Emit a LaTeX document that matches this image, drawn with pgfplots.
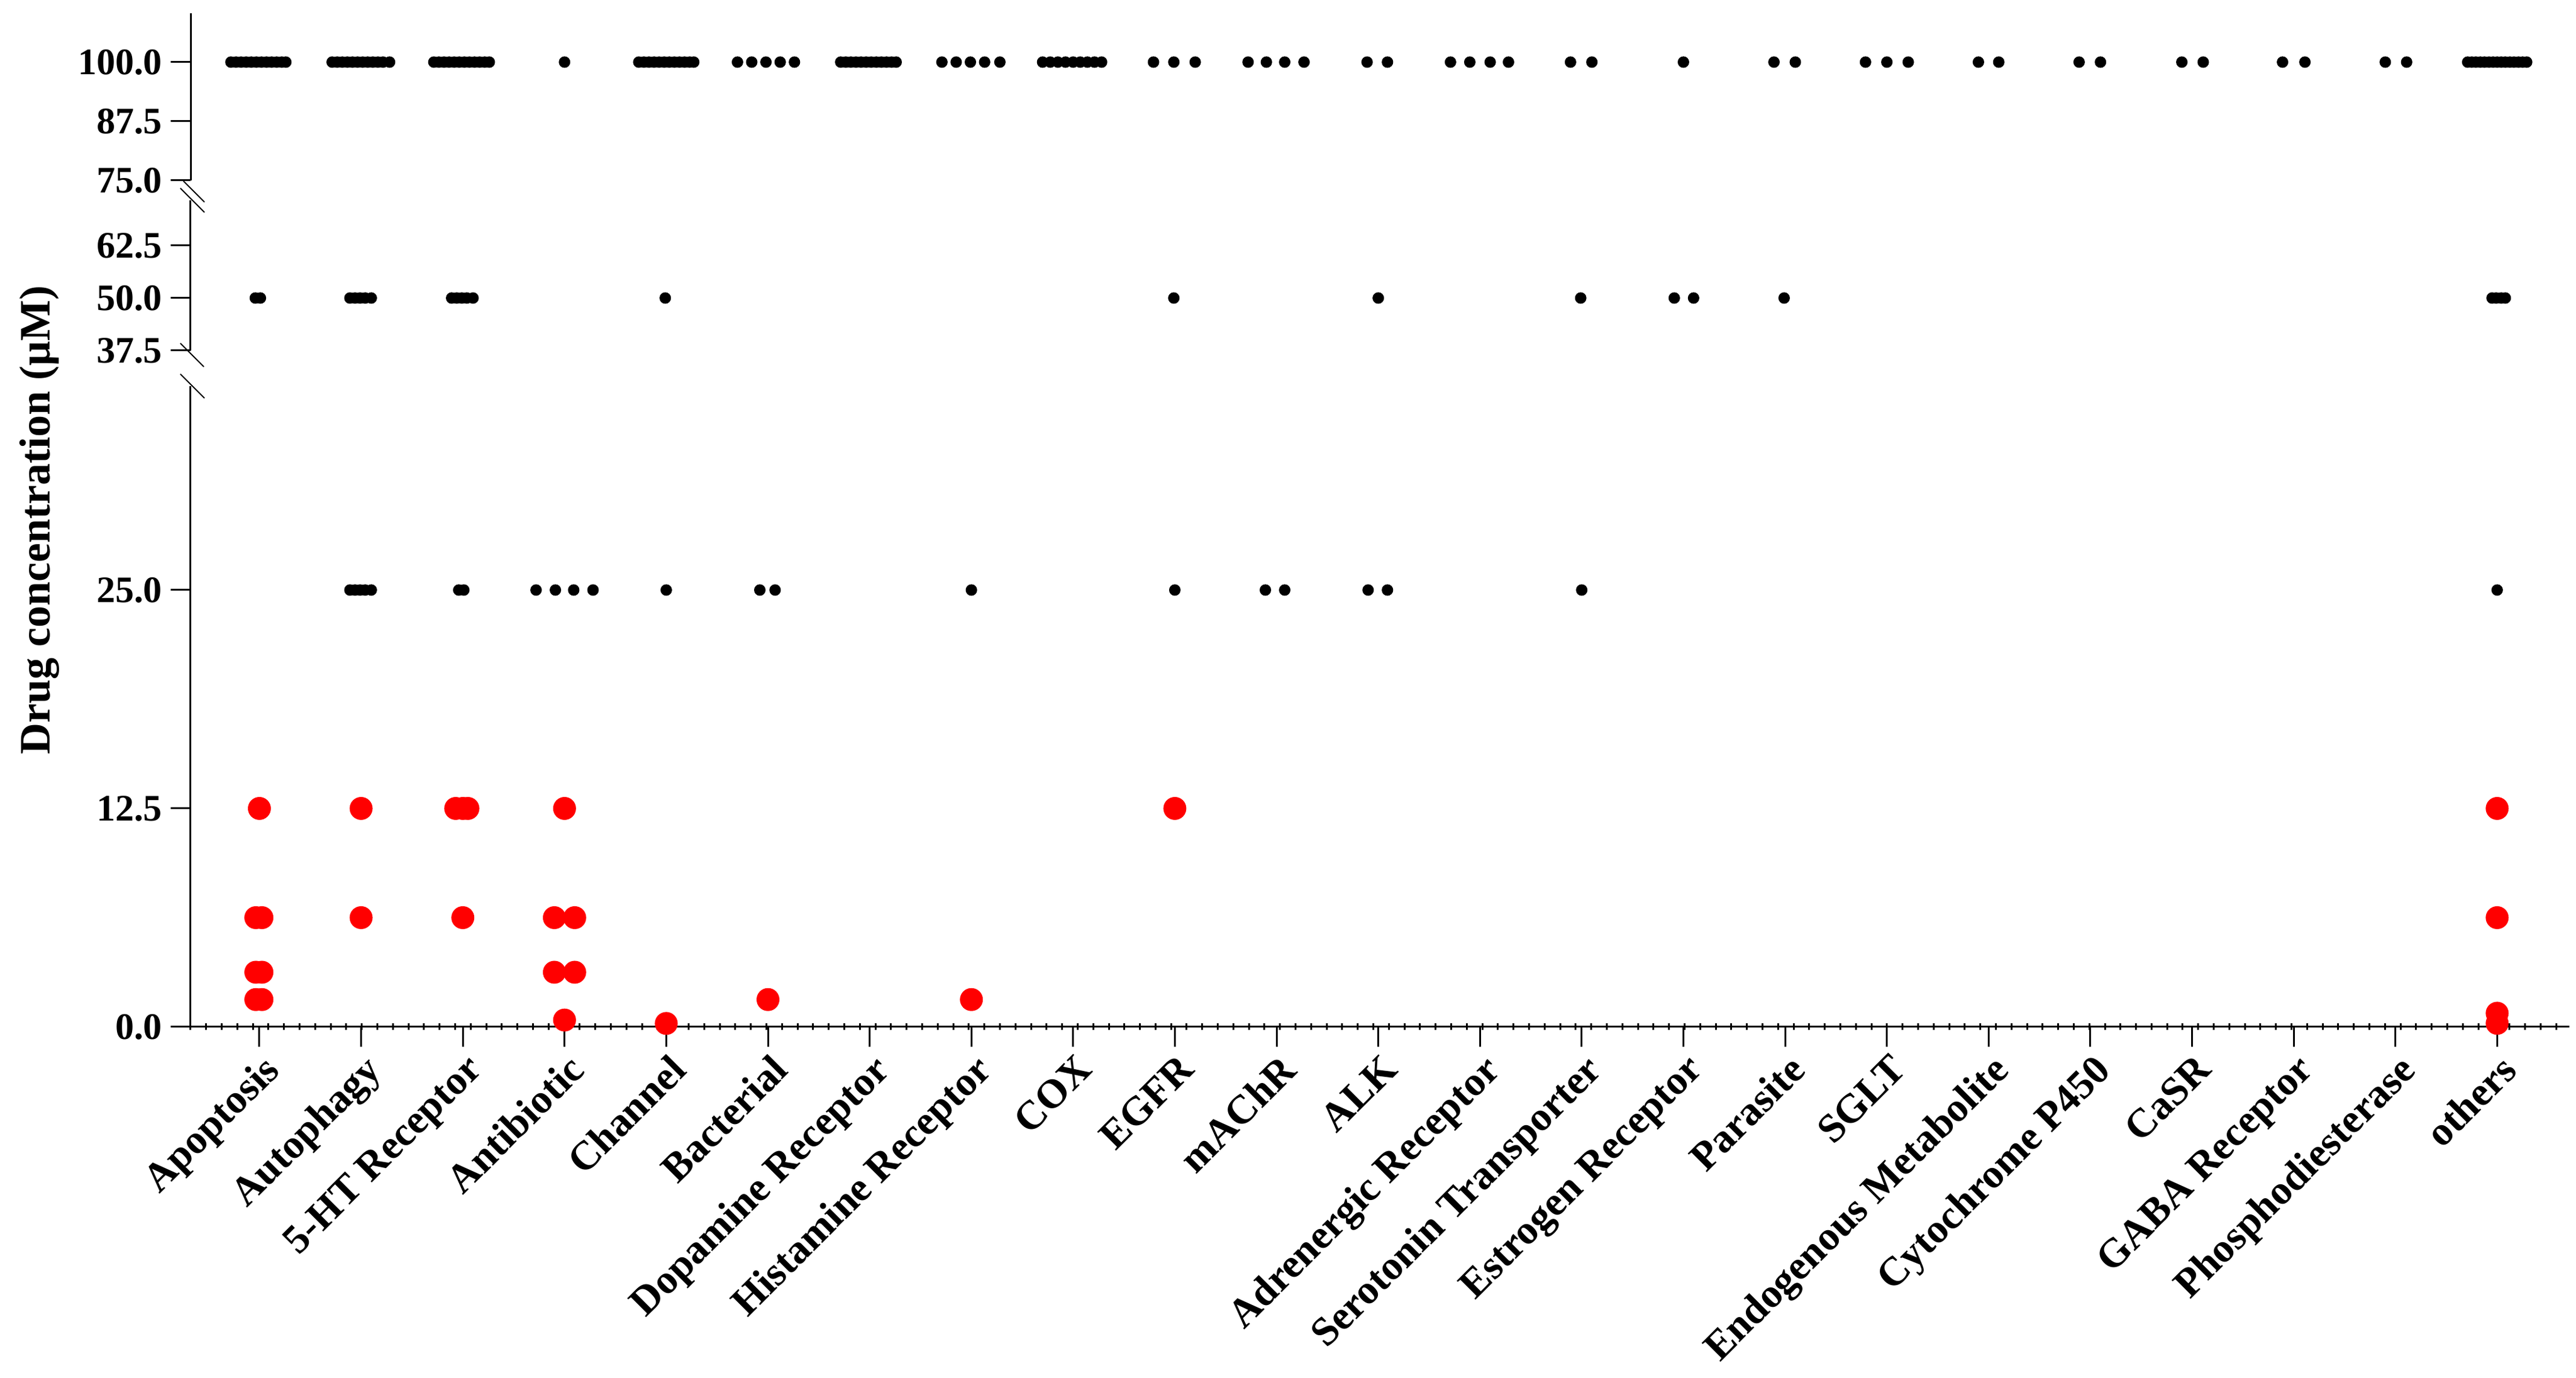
\documentclass[border=0pt]{standalone}
\usepackage{fontspec}
\setmainfont{Liberation Serif}
\usepackage{pgfplots}
\pgfplotsset{compat=1.18}
\pgfplotsset{
  seg/.style={
    scale only axis, width=788.6pt,
    xmin=-0.676, xmax=22.71,
    axis y line*=left, clip=false,
    axis line style={line width=0.6pt, black},
    tick style={line width=0.6pt, black},
    major tick length=6.6pt, tick align=outside,
    yticklabel style={font=\fontsize{12.4}{14}\selectfont\bfseries, inner sep=0pt, xshift=-2.6pt},
  },
  blk/.style={only marks, mark=*, mark size=1.75pt, mark options={draw=black, fill=black, line width=0.3pt}},
  rd/.style={only marks, mark=*, mark size=3.6pt, mark options={draw=red, fill=red, line width=0.4pt}},
}
\begin{document}
\begin{tikzpicture}
% ---------- bottom segment: 0 .. 36.7 ----------
\begin{axis}[seg, at={(0pt,0pt)}, anchor=south west, height=212.4pt,
  ymin=0, ymax=36.67,
  ytick={0,12.5,25}, yticklabels={0.0,12.5,25.0},
  axis x line*=bottom,
  xtick={0,...,22},
  xticklabels={Apoptosis, Autophagy, 5-HT Receptor, Antibiotic, Channel, Bacterial, Dopamine Receptor, Histamine Receptor, COX, EGFR, mAChR, ALK, Adrenergic Receptor, Serotonin Transporter, Estrogen Receptor, Parasite, SGLT, Endogenous Metabolite, Cytochrome P450, CaSR, GABA Receptor, Phosphodiesterase, others},
  xticklabel style={font=\fontsize{13.5}{15}\selectfont\bfseries, yshift=-1.6pt, xshift=0.6pt, rotate=45, anchor=north east, inner sep=0pt},
  minor xtick={-0.676,-0.523,...,22.71},
  minor tick length=2.2pt,
  minor tick style={line width=0.6pt, black, yshift=1.1pt},
]
\addplot[blk] coordinates {
 (0.89,25) (0.94,25) (0.99,25) (1.04,25) (1.10,25)
 (1.96,25) (2.01,25)
 (2.72,25) (2.91,25) (3.09,25) (3.28,25)
 (4.0,25)
 (4.92,25) (5.07,25)
 (7.0,25)
 (9.0,25)
 (9.89,25) (10.08,25)
 (10.9,25) (11.09,25)
 (13.0,25)
 (22.0,25)
};
\addplot[rd] coordinates {
 (0,12.5) (-0.035,6.25) (0.025,6.25) (-0.035,3.125) (0.025,3.125) (-0.035,1.5625) (0.025,1.5625)
 (1,12.5) (1,6.25)
 (1.93,12.5) (2.0,12.5) (2.05,12.5) (2.0,6.25)
 (3,12.5) (2.9,6.25) (3.1,6.25) (2.9,3.125) (3.1,3.125) (3,0.39)
 (4,0.195)
 (5,1.5625)
 (7,1.5625)
 (9,12.5)
 (22,12.5) (22,6.25) (22,0.78) (22,0.2)
};
\draw[line width=0.4pt] (rel axis cs:0,1) ++(-3.4pt,4pt) -- ++(8pt,-8pt);
\end{axis}
% ---------- middle segment: 37.5 .. 73.3 ----------
\begin{axis}[seg, at={(0pt,224.2pt)}, anchor=south west, height=49.8pt,
  ymin=37.5, ymax=73.28,
  ytick={37.5,50,62.5}, yticklabels={37.5,50.0,62.5},
  axis x line=none,
]
\addplot[blk] coordinates {
 (-0.04,50) (0.01,50)
 (0.89,50) (0.94,50) (0.99,50) (1.04,50) (1.10,50)
 (1.89,50) (1.94,50) (1.99,50) (2.04,50) (2.10,50)
 (3.99,50)
 (8.99,50)
 (11.0,50)
 (12.99,50)
 (13.91,50) (14.1,50)
 (14.99,50)
 (21.95,50) (21.99,50) (22.04,50) (22.08,50)
};
\draw[line width=0.4pt] (rel axis cs:0,1) ++(-3.4pt,4pt) -- ++(8pt,-8pt);
\draw[line width=0.4pt] (rel axis cs:0,0) ++(-3.4pt,2.4pt) -- ++(7.8pt,-7.8pt);
\end{axis}
% ---------- top segment: 75 .. 110 ----------
\begin{axis}[seg, at={(0pt,280.6pt)}, anchor=south west, height=55.4pt,
  ymin=75, ymax=110.33,
  ytick={75,87.5,100}, yticklabels={75.0,87.5,100.0},
  axis x line=none,
]
\addplot[blk] coordinates {
 (-0.28,100) (-0.23,100) (-0.18,100) (-0.13,100) (-0.08,100) (-0.03,100) (0.02,100) (0.07,100) (0.12,100) (0.17,100) (0.22,100) (0.26,100)
 (0.715,100) (0.765,100) (0.815,100) (0.865,100) (0.915,100) (0.965,100) (1.015,100) (1.065,100) (1.115,100) (1.165,100) (1.215,100) (1.28,100)
 (1.715,100) (1.765,100) (1.815,100) (1.865,100) (1.915,100) (1.965,100) (2.015,100) (2.065,100) (2.115,100) (2.165,100) (2.215,100) (2.26,100)
 (3.0,100)
 (3.73,100) (3.78,100) (3.83,100) (3.88,100) (3.93,100) (3.98,100) (4.03,100) (4.08,100) (4.13,100) (4.18,100) (4.23,100) (4.27,100)
 (4.70,100) (4.84,100) (4.98,100) (5.12,100) (5.26,100)
 (5.715,100) (5.765,100) (5.815,100) (5.865,100) (5.915,100) (5.965,100) (6.015,100) (6.065,100) (6.115,100) (6.165,100) (6.215,100) (6.26,100)
 (6.71,100) (6.85,100) (6.99,100) (7.13,100) (7.28,100)
 (7.70,100) (7.775,100) (7.85,100) (7.925,100) (8.0,100) (8.07,100) (8.14,100) (8.21,100) (8.28,100)
 (8.79,100) (8.99,100) (9.2,100)
 (9.72,100) (9.9,100) (10.08,100) (10.27,100)
 (10.89,100) (11.09,100)
 (11.71,100) (11.9,100) (12.1,100) (12.28,100)
 (12.89,100) (13.1,100)
 (14.0,100)
 (14.89,100) (15.1,100)
 (15.79,100) (16.0,100) (16.21,100)
 (16.9,100) (17.1,100)
 (17.89,100) (18.1,100)
 (18.9,100) (19.11,100)
 (19.89,100) (20.11,100)
 (20.9,100) (21.11,100)
 (21.71,100) (21.75,100) (21.79,100) (21.835,100) (21.875,100) (21.92,100) (21.96,100) (22.0,100) (22.04,100) (22.08,100) (22.125,100) (22.165,100) (22.21,100) (22.25,100) (22.29,100)
};
\draw[line width=0.4pt] (rel axis cs:0,0) ++(-2.4pt,-0.2pt) -- ++(7pt,-7pt);
\end{axis}
\node[rotate=90, anchor=base, font=\fontsize{14.4}{16}\selectfont\bfseries] at (-46.6pt,168pt) {Drug concentration (μM)};
\pgfresetboundingbox
\path[use as bounding box] (-63.2pt,-116.4pt) rectangle (790.8pt,340.4pt);
\end{tikzpicture}
\end{document}
